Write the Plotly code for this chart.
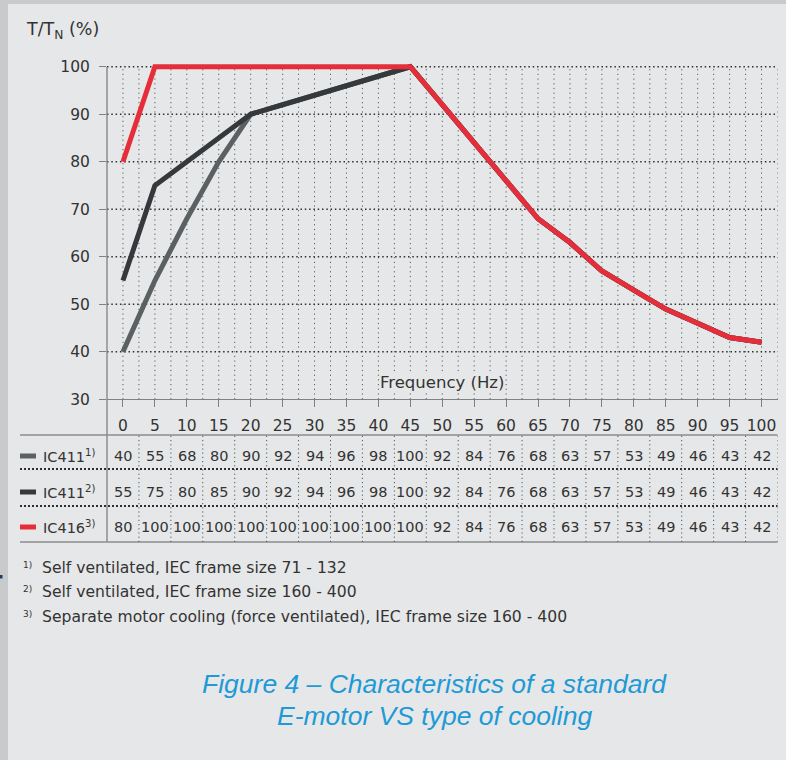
import plotly.graph_objects as go

# ---------------- data ----------------
freq = [0, 5, 10, 15, 20, 25, 30, 35, 40, 45, 50, 55, 60, 65, 70, 75, 80, 85, 90, 95, 100]
ic411_self_small = [40, 55, 68, 80, 90, 92, 94, 96, 98, 100, 92, 84, 76, 68, 63, 57, 53, 49, 46, 43, 42]
ic411_self_large = [55, 75, 80, 85, 90, 92, 94, 96, 98, 100, 92, 84, 76, 68, 63, 57, 53, 49, 46, 43, 42]
ic416_forced = [80, 100, 100, 100, 100, 100, 100, 100, 100, 100, 92, 84, 76, 68, 63, 57, 53, 49, 46, 43, 42]
series_names = ["IC411", "IC411", "IC416"]
series_notes = ["1)", "2)", "3)"]
y_ticks = [30, 40, 50, 60, 70, 80, 90, 100]
footnote_marks = ["1)", "2)", "3)"]
footnote_texts = [
    "Self ventilated, IEC frame size 71 - 132",
    "Self ventilated, IEC frame size 160 - 400",
    "Separate motor cooling (force ventilated), IEC frame size 160 - 400",
]
y_title = "T/T<sub>N</sub> (%)"
x_title = "Frequency (Hz)"
caption_lines = ["Figure 4 – Characteristics of a standard", "E-motor VS type of cooling"]

series_values = [ic411_self_small, ic411_self_large, ic416_forced]
series_colors = ["#5b6062", "#36393c", "#e62e3a"]

# ---------------- layout helpers ----------------
W, H = 786, 760
BG = "#e6e7e8"
FONT = "DejaVu Sans"
TXT = "#333333"


def px(x):
    return x / W


def py(y):
    return 1 - y / H


X0_PX, X1_PX = 107, 777.5
YBOT_PX, YTOP_PX = 399.3, 59.6
XMIN, XMAX = -2.5, 102.5
YMIN, YMAX = 30, 101.5

fig = go.Figure()

for vals, col, name, note in zip(series_values, series_colors, series_names, series_notes):
    fig.add_trace(go.Scatter(
        x=freq, y=vals, mode="lines", name=name + note,
        line=dict(color=col, width=5), hoverinfo="x+y",
    ))

shapes = []
# frame strips
shapes.append(dict(type="rect", xref="paper", yref="paper", x0=0, x1=px(8), y0=0, y1=1,
                   fillcolor="#c9cacc", line=dict(width=0), layer="below"))
shapes.append(dict(type="rect", xref="paper", yref="paper", x0=0, x1=1, y0=py(4), y1=1,
                   fillcolor="#c9cacc", line=dict(width=0), layer="below"))
shapes.append(dict(type="rect", xref="paper", yref="paper", x0=0, x1=px(2.5), y0=py(578.5), y1=py(575),
                   fillcolor="#1f3d5e", line=dict(width=0)))

# plot grid: verticals every 2.5 Hz
f = 0.0
while f <= 102.5 + 1e-9:
    shapes.append(dict(type="line", xref="x", yref="y", x0=f, x1=f, y0=30, y1=100,
                       line=dict(color="#5a5a5a", width=1, dash="1.2px,3.5px"), layer="below"))
    f += 2.5
# horizontals every 10
for v in y_ticks[1:]:
    shapes.append(dict(type="line", xref="x", yref="y", x0=XMIN, x1=XMAX, y0=v, y1=v,
                       line=dict(color="#2f2f2f", width=1.5, dash="1.5px,2.8px"), layer="below"))

# y-axis line extended through table
shapes.append(dict(type="line", xref="paper", yref="paper", x0=px(X0_PX), x1=px(X0_PX),
                   y0=py(542), y1=py(66.7), line=dict(color="#7f8183", width=1.3)))

# table
ROW_Y = [456, 492, 527]
TL, TR = 20, 777.5
shapes.append(dict(type="line", xref="paper", yref="paper", x0=px(TL), x1=px(TR), y0=py(435), y1=py(435),
                   line=dict(color="#8a8c8e", width=1.6)))
shapes.append(dict(type="line", xref="paper", yref="paper", x0=px(TL), x1=px(TR), y0=py(542), y1=py(542),
                   line=dict(color="#8a8c8e", width=1.6)))
for yy in [469, 506]:
    shapes.append(dict(type="line", xref="paper", yref="paper", x0=px(TL), x1=px(TR), y0=py(yy), y1=py(yy),
                       line=dict(color="#2f2f2f", width=2, dash="2px,2px")))
for fr in freq:
    xs = fr + 2.5
    shapes.append(dict(type="line", xref="x", yref="paper", x0=xs, x1=xs, y0=py(542), y1=py(435),
                       line=dict(color="#555555", width=1, dash="1.2px,3px")))

annotations = []
for ry, vals, col, name, note in zip(ROW_Y, series_values, series_colors, series_names, series_notes):
    shapes.append(dict(type="line", xref="paper", yref="paper", x0=px(20), x1=px(36), y0=py(ry), y1=py(ry),
                       line=dict(color=col, width=5)))
    annotations.append(dict(xref="paper", yref="paper", x=px(41), y=py(ry), xanchor="left", yanchor="middle",
                            text=f"{name}<sup>{note}</sup>", showarrow=False,
                            font=dict(family=FONT, size=14.5, color=TXT)))
    for fr, v in zip(freq, vals):
        annotations.append(dict(xref="x", yref="paper", x=fr, y=py(ry), xanchor="center", yanchor="middle",
                                text=str(v), showarrow=False,
                                font=dict(family=FONT, size=14.5, color=TXT)))

# titles
annotations.append(dict(xref="paper", yref="paper", x=px(24), y=py(31), xanchor="left", yanchor="middle",
                        text=y_title, showarrow=False, font=dict(family=FONT, size=17.5, color=TXT)))
annotations.append(dict(xref="x", yref="paper", x=50, y=py(383), xanchor="center", yanchor="middle",
                        text=x_title, showarrow=False, bgcolor=BG, borderpad=0,
                        font=dict(family=FONT, size=16.5, color=TXT)))

# footnotes
for yy, mk, tx in zip([568, 592, 617], footnote_marks, footnote_texts):
    annotations.append(dict(xref="paper", yref="paper", x=px(21), y=py(yy - 3), xanchor="left", yanchor="middle",
                            text=mk, showarrow=False, font=dict(family=FONT, size=9, color=TXT)))
    annotations.append(dict(xref="paper", yref="paper", x=px(40), y=py(yy), xanchor="left", yanchor="middle",
                            text=tx, showarrow=False, font=dict(family=FONT, size=15.6, color=TXT)))

# caption
for yy, line in zip([684, 716], caption_lines):
    annotations.append(dict(xref="paper", yref="paper", x=px(434), y=py(yy), xanchor="center", yanchor="middle",
                            text=f"<i>{line}</i>", showarrow=False,
                            font=dict(family="Liberation Sans, Arial", size=26.5, color="#1e9ad6")))

fig.update_layout(
    template="none",
    width=W, height=H,
    margin=dict(l=0, r=0, t=0, b=0),
    paper_bgcolor=BG, plot_bgcolor=BG,
    showlegend=False,
    shapes=shapes,
    annotations=annotations,
    xaxis=dict(domain=[px(X0_PX), px(X1_PX)], range=[XMIN, XMAX], tickvals=freq,
               ticktext=[str(v) for v in freq],
               ticks="outside", ticklen=7, tickwidth=1.3, tickcolor="#7f8183",
               showline=True, linecolor="#7f8183", linewidth=1.3,
               showgrid=False, zeroline=False, automargin=False, ticklabelstandoff=5,
               tickfont=dict(family=FONT, size=15.5, color=TXT)),
    yaxis=dict(domain=[py(YBOT_PX), py(YTOP_PX)], range=[YMIN, YMAX], tickvals=y_ticks,
               ticktext=[str(v) for v in y_ticks],
               ticks="outside", ticklen=7, tickwidth=1.3, tickcolor="#7f8183",
               showline=False, showgrid=False, zeroline=False, automargin=False, ticklabelstandoff=6,
               tickfont=dict(family=FONT, size=15.5, color=TXT)),
)

fig.write_html(
    "out.html",
    config={"displayModeBar": False},
    post_script="document.body.style.margin='0px';document.body.style.overflow='hidden';"
                "document.body.style.background='" + BG + "';",
)
